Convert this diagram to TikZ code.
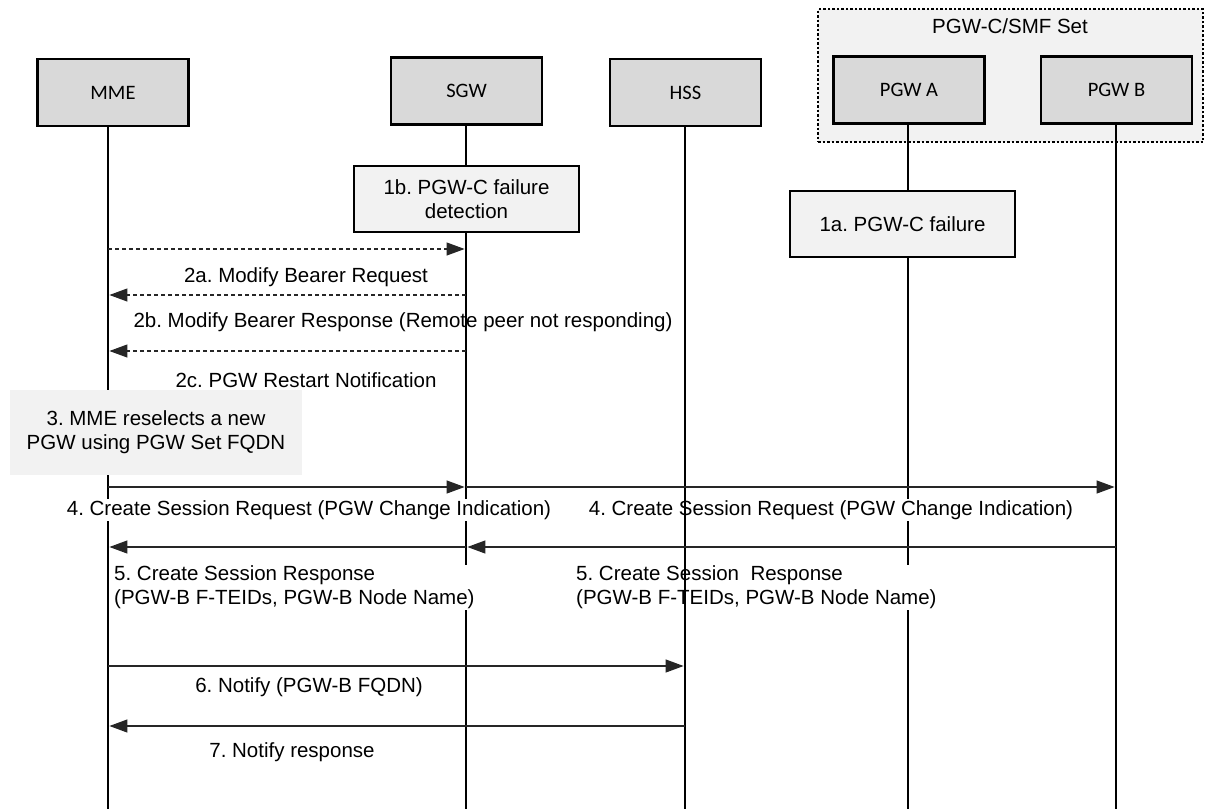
\documentclass[tikz,border=0pt]{standalone}
\usepackage{fontspec}
\setmainfont{Liberation Sans}
\newfontfamily\boxfont{Carlito}
\usetikzlibrary{arrows.meta}
\definecolor{entfill}{HTML}{D9D9D9}
\definecolor{notefill}{HTML}{F2F2F2}
\frenchspacing
\tikzset{
  ent/.style={draw=black, line width=2.7pt, fill=entfill, minimum width=151pt, minimum height=67pt, inner sep=0pt, font=\boxfont\fontsize{20.5}{24}\selectfont},
  note/.style={draw=black, line width=1.3pt, fill=notefill, inner sep=0pt, align=center},
  life/.style={line width=2.8pt, draw=black},
  lbl/.style={inner sep=1pt, align=center},
  lblw/.style={inner sep=1pt, fill=white},
  msg/.style={line width=1.2pt, draw=black!85, -{Triangle[length=18pt,width=13pt]}, shorten >=1.4pt},
  dmsg/.style={line width=1.1pt, draw=black!85, dash pattern=on 4pt off 3pt, -{Triangle[length=18pt,width=13pt]}, shorten >=1.4pt},
}
\begin{document}
\begin{tikzpicture}[x=1pt, y=-1pt, font=\fontsize{20.5}{24}\selectfont]
\useasboundingbox (0,0) rectangle (1205,809);
% container
\node[draw=black, line width=1.5pt, dash pattern=on 2.5pt off 2pt, fill=notefill, minimum width=385pt, minimum height=133pt, inner sep=0pt] (set) at (1010.5,75.5) {};
\node[lbl] (setlbl) at (1010,26) {PGW-C/SMF Set};
% entities
\node[ent] (mme) at (113,92.5) {MME};
\node[ent] (sgw) at (466.5,91) {SGW};
\node[ent] (hss) at (685.5,92.5) {HSS};
\node[ent] (pgwa) at (909,90) {PGW A};
\node[ent] (pgwb) at (1116.5,90) {PGW B};
% lifeline ends
\coordinate (mmeE) at (108,809);
\coordinate (sgwE) at (466,809);
\coordinate (hssE) at (685,809);
\coordinate (pgwaE) at (908,809);
\coordinate (pgwbE) at (1116,809);
\draw[life] (mme.south -| mmeE) -- (mmeE);
\draw[life] (sgw.south -| sgwE) -- (sgwE);
\draw[life] (pgwa.south -| pgwaE) -- (pgwaE);
\draw[life] (pgwb.south -| pgwbE) -- (pgwbE);
% notes
\node[note, minimum width=225pt, minimum height=66pt] (n1b) at (466.5,199) {1b. PGW-C failure\\detection};
\node[note, minimum width=225pt, minimum height=66pt] (n1a) at (902.5,224) {1a. PGW-C failure};
\node[fill=notefill, draw=none, minimum width=292pt, minimum height=85pt, inner sep=0pt, align=center] (n3) at (156,432.5) {3. MME reselects a new\\PGW using PGW Set FQDN};
% labels
\node[lbl] (l2a) at (306,277) {2a. Modify Bearer Request};
\node[lbl] (l2b) at (403,322) {2b. Modify Bearer Response (Remote peer not responding)};
\node[lbl] (l2c) at (306,380) {2c. PGW Restart Notification};
\node[lblw] (l4a) at (309,510) {4. Create Session Request (PGW Change Indication)};
\node[lblw] (l4b) at (831,510) {4. Create Session Request (PGW Change Indication)};
\node[lblw, align=left, anchor=west] (l5a) at (113,587.5) {5. Create Session Response\\(PGW-B F-TEIDs, PGW-B Node Name)};
\node[lblw, align=left, anchor=west] (l5b) at (575,587.5) {5. Create Session\ \ Response\\(PGW-B F-TEIDs, PGW-B Node Name)};
\node[lbl] (l6) at (309,687) {6. Notify (PGW-B FQDN)};
\node[lbl] (l7) at (292,752) {7. Notify response};
% HSS lifeline on top
\draw[life] (hss.south -| hssE) -- (hssE);
% messages
\draw[dmsg] (mmeE |- 0,249) -- (sgwE |- 0,249);
\draw[dmsg] (sgwE |- 0,295) -- (mmeE |- 0,295);
\draw[dmsg] (sgwE |- 0,351) -- (mmeE |- 0,351);
\draw[msg] (mmeE |- 0,487) -- (sgwE |- 0,487);
\draw[msg] (sgwE |- 0,487) -- (pgwbE |- 0,487);
\draw[msg] (pgwbE |- 0,547) -- (sgwE |- 0,547);
\draw[msg] (sgwE |- 0,547) -- (mmeE |- 0,547);
\draw[msg] (mmeE |- 0,666) -- (hssE |- 0,666);
\draw[msg] (hssE |- 0,726) -- (mmeE |- 0,726);
\end{tikzpicture}
\end{document}
